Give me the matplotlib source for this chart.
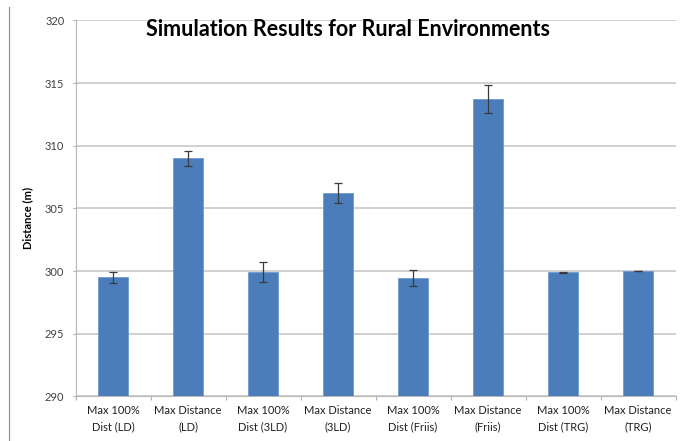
import numpy as np
import matplotlib
matplotlib.use("Agg")
import matplotlib.pyplot as plt
from matplotlib.lines import Line2D

plt.rcParams['font.family'] = ['Lato', 'DejaVu Sans']

# data
labels = ["Max 100%\nDist (LD)", "Max Distance\n(LD)", "Max 100%\nDist (3LD)", "Max Distance\n(3LD)",
          "Max 100%\nDist (Friis)", "Max Distance\n(Friis)", "Max 100%\nDist (TRG)", "Max Distance\n(TRG)"]
distances = [299.5, 309.0, 299.9, 306.2, 299.45, 313.75, 299.9, 300.0]
errors = [0.45, 0.6, 0.8, 0.8, 0.65, 1.1, 0.03, 0.03]
yticks = [290, 295, 300, 305, 310, 315, 320]

fig = plt.figure(figsize=(6.84, 4.41), dpi=100)
ax = fig.add_axes([0.1104, 0.1011, 0.8772, 0.8526])

xs = np.arange(len(labels))
ax.bar(xs, distances, width=0.39, bottom=0, color="#4A7DBA", edgecolor="#6F9AD0", linewidth=0.6, zorder=3)
ax.errorbar(xs, distances, yerr=errors, fmt="none", ecolor="#3a3a3a", elinewidth=0.9,
            capsize=3, capthick=0.9, zorder=4)

ax.set_xlim(-0.5, len(labels) - 0.5)
ax.set_ylim(290, 320)
ax.set_yticks(yticks)
ax.set_yticklabels([str(t) for t in yticks], fontsize=8, color="#404040")
ax.set_xticks(xs)
ax.set_xticklabels(labels, fontsize=8, color="#202020", linespacing=1.6)
ax.tick_params(axis="x", length=0, pad=6)
ax.tick_params(axis="y", length=2.5, color="#b0b0b0", width=0.8, pad=5.5)

# category boundary ticks on x axis
ax.set_xticks(np.arange(len(labels) + 1) - 0.5, minor=True)
ax.tick_params(axis="x", which="minor", length=3, color="#b0b0b0", width=0.8)

ax.grid(axis="y", color="#c8c8c8", linewidth=1.2, zorder=0)
for side in ["top", "right"]:
    ax.spines[side].set_visible(False)
ax.spines["left"].set_color("#b8b8b8")
ax.spines["bottom"].set_color("#b8b8b8")
ax.spines["left"].set_linewidth(0.8)
ax.spines["bottom"].set_linewidth(0.8)

ax.set_ylabel("Distance (m)", fontsize=8, fontweight="bold")
ax.yaxis.set_label_coords(-0.071, 0.474)
fig.text(0.5095, 0.932, "Simulation Results for Rural Environments", fontsize=15.5,
         fontweight="bold", ha="center", va="center")

# chart frame edge on the left
fig.add_artist(Line2D([9 / 684, 9 / 684], [0, 1 - 7 / 441], transform=fig.transFigure,
                      color="#8c8c8c", linewidth=0.8))

fig.savefig("out.png", dpi=100)
